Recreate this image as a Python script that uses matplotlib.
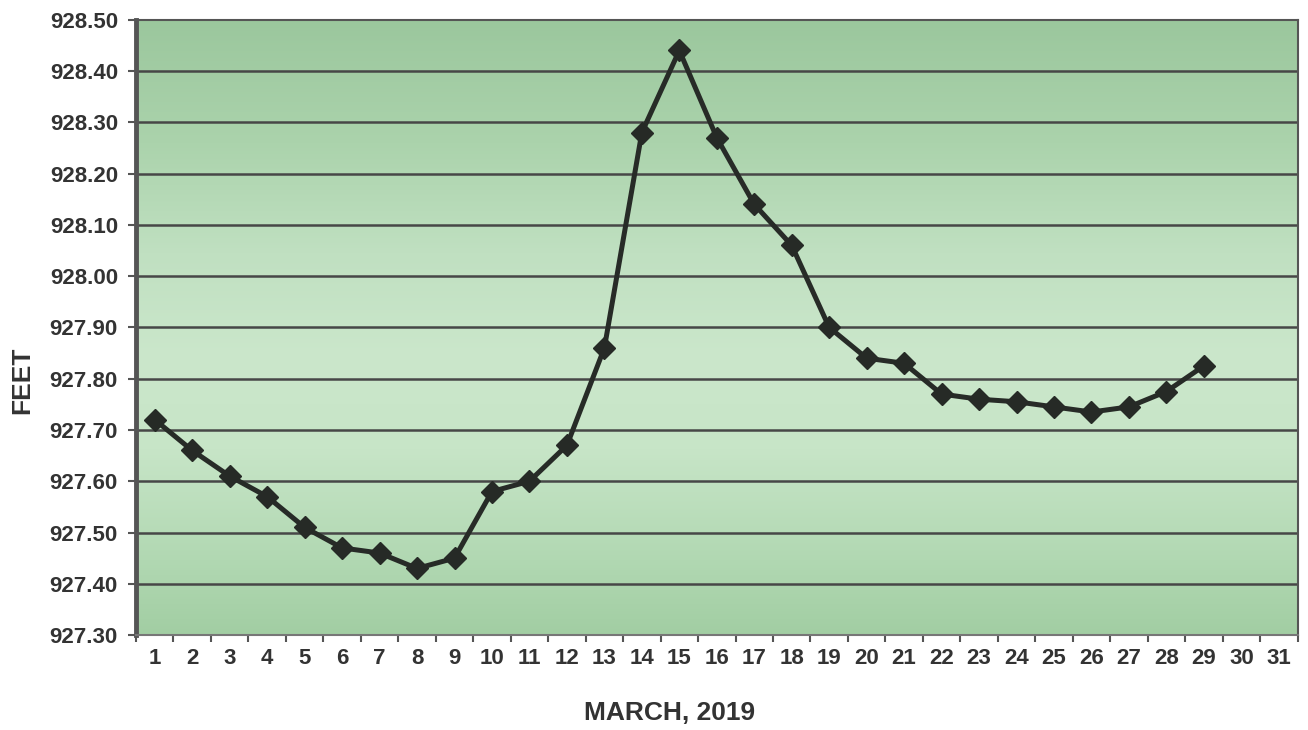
import numpy as np
import matplotlib
matplotlib.use("Agg")
import matplotlib.pyplot as plt
from matplotlib.colors import LinearSegmentedColormap

# Lake level, March 2019 (feet)
dias = list(range(1, 30))
nivel = [927.72, 927.66, 927.61, 927.57, 927.51, 927.47, 927.46, 927.43, 927.45,
         927.58, 927.60, 927.67, 927.86, 928.28, 928.44, 928.27, 928.14, 928.06,
         927.90, 927.84, 927.83, 927.77, 927.76, 927.755, 927.745, 927.735,
         927.745, 927.775, 927.825]
etiquetas_x = [str(d) for d in range(1, 32)]
ticks_y = np.arange(927.30, 928.51, 0.10)

plt.rcParams['font.family'] = ['Liberation Sans', 'DejaVu Sans']

fig = plt.figure(figsize=(13.08, 7.30), dpi=100)
ax = fig.add_axes([0.104, 0.130, 0.888, 0.843])

# green gradient background (darker at top and bottom, light band upper-middle)
fondo = LinearSegmentedColormap.from_list("fondo", [
    (0.00, "#a2cea3"), (0.12, "#b1d8b2"), (0.30, "#c7e5c7"), (0.45, "#cbe7cb"),
    (0.62, "#c0e0c1"), (0.80, "#abd3ac"), (1.00, "#9bc79d")])
grad = np.linspace(0, 1, 256).reshape(-1, 1)
ax.imshow(grad, cmap=fondo, aspect='auto', extent=[0, 1, 1, 0],
          transform=ax.transAxes, zorder=0)

ax.set_xlim(0.5, 31.5)
ax.set_ylim(927.30, 928.50)

for v in ticks_y[1:-1]:
    ax.axhline(v, color='#474747', lw=1.8, zorder=1)

ax.plot(dias, nivel, color='#272b27', lw=3.6, marker='D', markersize=11.5,
        markerfacecolor='#262a26', markeredgecolor='#262a26', zorder=3)

# category axis: ticks between days, labels at the days
ax.set_xticks(np.arange(0.5, 32, 1.0))
ax.set_xticklabels([])
ax.set_xticks(range(1, 32), minor=True)
ax.set_xticklabels(etiquetas_x, minor=True)
ax.tick_params(axis='x', which='major', length=5, width=1.5, color='#555555')
ax.tick_params(axis='x', which='minor', length=0, pad=9, labelsize=16,
               labelcolor='#333333')

ax.set_yticks(ticks_y)
ax.set_yticklabels([f"{v:.2f}" for v in ticks_y])
ax.tick_params(axis='y', length=6, width=1.5, color='#555555', pad=7,
               labelsize=16, labelcolor='#333333')
for lab in ax.get_yticklabels() + ax.get_xticklabels(minor=True):
    lab.set_fontweight('bold')

ax.spines['left'].set_linewidth(3.5)
ax.spines['left'].set_color('#555555')
ax.spines['bottom'].set_linewidth(1.5)
ax.spines['bottom'].set_color('#777777')
ax.spines['top'].set_linewidth(1.5)
ax.spines['top'].set_color('#555555')
ax.spines['right'].set_linewidth(1.5)
ax.spines['right'].set_color('#555555')

fig.text(22 / 1308, 1 - 380 / 730, "FEET", rotation=90, ha='center', va='center',
         fontsize=19, fontweight='bold', color='#333333')
fig.text(670 / 1308, 1 - 713 / 730, "MARCH, 2019", ha='center', va='center',
         fontsize=19, fontweight='bold', color='#333333')

fig.savefig("out.png", dpi=100)
